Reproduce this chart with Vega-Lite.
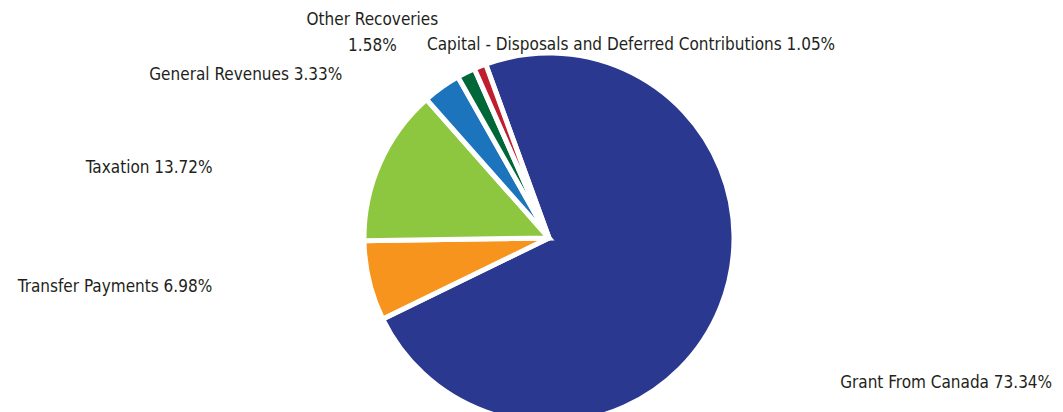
{
  "$schema": "https://vega.github.io/schema/vega-lite/v6.json",
  "width": 1028,
  "height": 348,
  "autosize": {"type": "none"},
  "padding": {"left": 35, "top": 64, "right": 0, "bottom": 0},
  "background": "white",
  "config": {"view": {"stroke": null}, "text": {"font": "Liberation Sans Narrow, DejaVu Sans Condensed, sans-serif", "fontSize": 17, "fill": "#231f20", "lineBreak": "\n", "lineHeight": 26}},
  "data": {"values": [
    {"i": 1, "source": "Grant From Canada", "value": 73.34, "txt": "Grant From Canada 73.34%"},
    {"i": 2, "source": "Transfer Payments", "value": 6.98, "txt": "Transfer Payments 6.98%"},
    {"i": 3, "source": "Taxation", "value": 13.72, "txt": "Taxation 13.72%"},
    {"i": 4, "source": "General Revenues", "value": 3.33, "txt": "General Revenues 3.33%"},
    {"i": 5, "source": "Other Recoveries", "value": 1.58, "txt": "Other Recoveries\n1.58%"},
    {"i": 6, "source": "Capital - Disposals and Deferred Contributions", "value": 1.05, "txt": "Capital - Disposals and Deferred Contributions 1.05%"}
  ]},
  "encoding": {
    "theta": {"field": "value", "type": "quantitative", "stack": true, "scale": {"range": [-0.349, 5.934]}},
    "order": {"field": "i", "type": "ordinal"}
  },
  "layer": [
    {
      "mark": {"type": "arc", "outerRadius": 185, "stroke": "white", "strokeWidth": 5},
      "encoding": {
        "color": {"field": "source", "type": "nominal", "legend": null,
          "scale": {"domain": ["Grant From Canada", "Transfer Payments", "Taxation", "General Revenues", "Other Recoveries", "Capital - Disposals and Deferred Contributions"],
                    "range": ["#2b388f", "#f7941d", "#8dc63f", "#1c75bc", "#006838", "#be1e2d"]}}
      }
    },
    {
      "mark": {"type": "text", "radius": 300, "align": "left", "baseline": "middle", "dx": 13, "dy": 33},
      "encoding": {"text": {"condition": {"test": "datum.i === 1", "field": "txt"}, "value": ""}}
    },
    {
      "mark": {"type": "text", "radius": 300, "align": "right", "baseline": "middle", "dx": -45, "dy": -21},
      "encoding": {"text": {"condition": {"test": "datum.i === 2", "field": "txt"}, "value": ""}}
    },
    {
      "mark": {"type": "text", "radius": 300, "align": "right", "baseline": "middle", "dx": -62, "dy": 51},
      "encoding": {"text": {"condition": {"test": "datum.i === 3", "field": "txt"}, "value": ""}}
    },
    {
      "mark": {"type": "text", "radius": 220, "align": "right", "baseline": "middle", "dx": -79, "dy": 16},
      "encoding": {"text": {"condition": {"test": "datum.i === 4", "field": "txt"}, "value": ""}}
    },
    {
      "mark": {"type": "text", "radius": 220, "align": "center", "baseline": "middle", "dx": -78, "dy": -21},
      "encoding": {"text": {"condition": {"test": "datum.i === 5", "field": "txt"}, "value": ""}}
    },
    {
      "mark": {"type": "text", "radius": 220, "align": "left", "baseline": "middle", "dx": -40, "dy": 11},
      "encoding": {"text": {"condition": {"test": "datum.i === 6", "field": "txt"}, "value": ""}}
    }
  ]
}
